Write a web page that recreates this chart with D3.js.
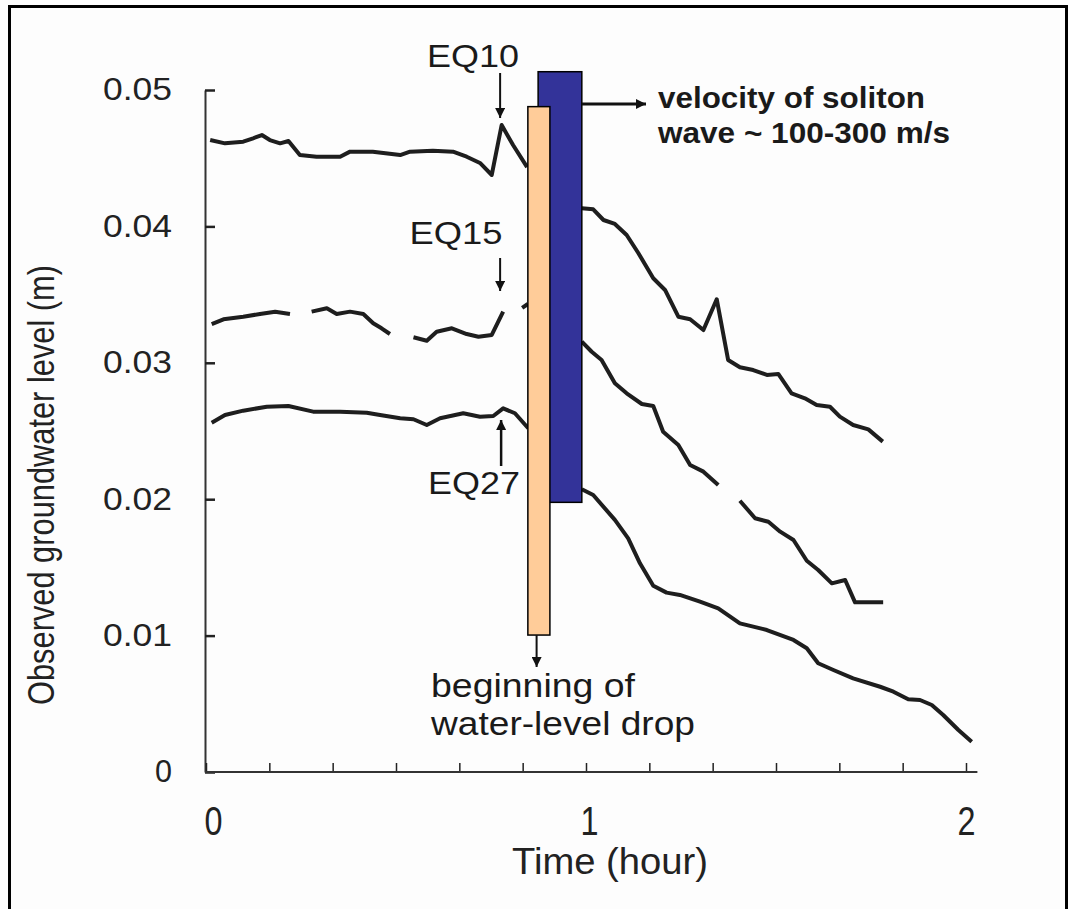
<!DOCTYPE html>
<html>
<head>
<meta charset="utf-8">
<script src="https://cdn.jsdelivr.net/npm/d3@7"></script>
<style>
  body { margin: 0; background: #fff; }
  svg { display: block; }
</style>
</head>
<body>
<div id="chart"></div>
<script>
// ---- data: [time (hour), level (m)], null = gap in the record ----
const eq10 = [
  [0.011, 0.04633], [0.050, 0.04609], [0.098, 0.04621], [0.124, 0.04646], [0.147, 0.04670],
  [0.168, 0.04633], [0.195, 0.04609], [0.217, 0.04626], [0.247, 0.04523], [0.291, 0.04511],
  [0.353, 0.04511], [0.379, 0.04548], [0.439, 0.04548], [0.511, 0.04523], [0.537, 0.04548],
  [0.597, 0.04555], [0.650, 0.04548], [0.686, 0.04511], [0.721, 0.04465], [0.752, 0.04377],
  [0.778, 0.04743], [0.808, 0.04597], [0.845, 0.04435],
  null,
  [0.989, 0.04133], [1.019, 0.04125], [1.046, 0.04047], [1.076, 0.04018], [1.107, 0.03937],
  [1.138, 0.03803], [1.177, 0.03620], [1.208, 0.03534], [1.243, 0.03338], [1.274, 0.03319],
  [1.309, 0.03240], [1.344, 0.03466], [1.374, 0.03021], [1.405, 0.02967], [1.440, 0.02947],
  [1.476, 0.02911], [1.506, 0.02918], [1.541, 0.02776], [1.576, 0.02740], [1.607, 0.02691],
  [1.642, 0.02678], [1.668, 0.02605], [1.703, 0.02544], [1.743, 0.02512], [1.781, 0.02422]
];

const eq15 = [
  [0.015, 0.03284], [0.046, 0.03319], [0.098, 0.03338], [0.142, 0.03358], [0.182, 0.03375],
  [0.221, 0.03358],
  null,
  [0.278, 0.03375], [0.318, 0.03400], [0.344, 0.03358], [0.379, 0.03375], [0.414, 0.03358],
  [0.440, 0.03290], [0.462, 0.03253], [0.484, 0.03211],
  null,
  [0.546, 0.03187], [0.581, 0.03162], [0.607, 0.03228], [0.647, 0.03253], [0.686, 0.03211],
  [0.717, 0.03191], [0.752, 0.03204], [0.782, 0.03375],
  null,
  [0.832, 0.03402], [0.847, 0.03431],
  null,
  [0.989, 0.03155], [1.015, 0.03081], [1.041, 0.03021], [1.076, 0.02850], [1.107, 0.02776],
  [1.147, 0.02698], [1.177, 0.02683], [1.203, 0.02495], [1.243, 0.02397], [1.274, 0.02251],
  [1.309, 0.02202], [1.348, 0.02104],
  null,
  [1.405, 0.01989], [1.445, 0.01860], [1.480, 0.01835], [1.511, 0.01762], [1.546, 0.01701],
  [1.581, 0.01549], [1.611, 0.01481], [1.647, 0.01383], [1.682, 0.01408], [1.708, 0.01244],
  [1.782, 0.01244]
];

const eq27 = [
  [0.015, 0.02561], [0.050, 0.02617], [0.098, 0.02649], [0.160, 0.02678], [0.217, 0.02683],
  [0.282, 0.02642], [0.353, 0.02642], [0.423, 0.02634], [0.458, 0.02617], [0.511, 0.02593],
  [0.546, 0.02586], [0.581, 0.02544], [0.616, 0.02593], [0.677, 0.02630], [0.721, 0.02605],
  [0.756, 0.02610], [0.782, 0.02666], [0.813, 0.02630], [0.848, 0.02520],
  null,
  [0.989, 0.02073], [1.019, 0.02031], [1.076, 0.01848], [1.111, 0.01713], [1.142, 0.01530],
  [1.177, 0.01366], [1.212, 0.01315], [1.247, 0.01298], [1.300, 0.01249], [1.348, 0.01200],
  [1.405, 0.01090], [1.476, 0.01041], [1.546, 0.00968], [1.581, 0.00907], [1.611, 0.00797],
  [1.651, 0.00748], [1.703, 0.00687], [1.774, 0.00625], [1.809, 0.00589], [1.848, 0.00533],
  [1.879, 0.00528], [1.910, 0.00491], [1.940, 0.00418], [1.980, 0.00308], [2.015, 0.00222]
];

// wave bars: [t0, t1, v0, v1]
const solitonBar = [0.874, 0.989, 0.01977, 0.05134];
const dropBar    = [0.847, 0.905, 0.01004, 0.04878];

const yTicks = [0, 0.01, 0.02, 0.03, 0.04, 0.05];
const yTickLabels = ["0", "0.01", "0.02", "0.03", "0.04", "0.05"];
const xTicks = [0, 1/6, 2/6, 3/6, 4/6, 5/6, 1, 7/6, 8/6, 9/6, 10/6, 11/6, 2];
const xTickLabels = {0: "0", 1: "1", 2: "2"};
const xAxisEnd = 2.03;

// ---- svg ----
const W = 1070, H = 909;
const svg = d3.select("#chart").append("svg")
  .attr("width", W).attr("height", H);

svg.append("rect").attr("width", W).attr("height", H).attr("fill", "#fdfdfd");

// frame round the figure
svg.append("rect")
  .attr("x", 9.5).attr("y", 6.5).attr("width", 1057).attr("height", 960)
  .attr("fill", "none").attr("stroke", "#000").attr("stroke-width", 3);

const x = d3.scaleLinear().domain([0, 2]).range([206, 966]);
const y = d3.scaleLinear().domain([0, 0.05]).range([772, 90]);

const ink = "#1e1e1e";
const sans = "'Liberation Sans', Arial, sans-serif";
const narrow = "'Liberation Sans Narrow', 'Arial Narrow', 'Liberation Sans', sans-serif";

// arrow marker
svg.append("defs").append("marker")
  .attr("id", "head")
  .attr("viewBox", "0 0 10 10")
  .attr("refX", 10).attr("refY", 5)
  .attr("markerUnits", "userSpaceOnUse")
  .attr("markerWidth", 12).attr("markerHeight", 10)
  .attr("orient", "auto")
  .append("path").attr("d", "M0,0 L10,5 L0,10 Z").attr("fill", "#111");

// Y axis
const yAxis = svg.append("g")
  .attr("transform", `translate(${x(0) - 1},0)`)
  .call(d3.axisLeft(y).tickValues(yTicks).tickSize(-10).tickSizeOuter(0).tickPadding(33)
    .tickFormat((d, i) => yTickLabels[i]));
yAxis.select(".domain").attr("stroke", "#333").attr("stroke-width", 2);
yAxis.selectAll(".tick line").attr("stroke", "#222").attr("stroke-width", 2.5);
yAxis.selectAll("text")
  .attr("font-family", sans).attr("font-size", 31).attr("fill", "#222")
  .attr("textLength", d => d === 0 ? 17 : 69).attr("lengthAdjust", "spacingAndGlyphs");

// X axis
const xAxis = svg.append("g")
  .attr("transform", `translate(0,${y(0)})`)
  .call(d3.axisBottom(x).tickValues(xTicks).tickSize(-9).tickSizeOuter(0).tickPadding(35)
    .tickFormat(d => xTickLabels[d] || ""));
xAxis.select(".domain").remove();
xAxis.append("line")
  .attr("x1", x(0) - 1).attr("x2", x(xAxisEnd))
  .attr("stroke", "#333").attr("stroke-width", 2);
xAxis.selectAll(".tick line").attr("stroke", "#222").attr("stroke-width", 1.5);
xAxis.selectAll("text")
  .attr("font-family", narrow).attr("font-size", 40).attr("fill", "#222")
  .attr("textLength", d => xTickLabels[d] ? 18 : null).attr("lengthAdjust", "spacingAndGlyphs")
  .attr("dx", d => d === 0 ? 7 : (d === 1 ? 3 : 0));

// axis titles
svg.append("text")
  .attr("x", 610).attr("y", 874)
  .attr("text-anchor", "middle")
  .attr("font-family", narrow).attr("font-size", 37).attr("fill", "#222")
  .attr("textLength", 196).attr("lengthAdjust", "spacingAndGlyphs")
  .text("Time (hour)");

svg.append("text")
  .attr("transform", "translate(54,485) rotate(-90)")
  .attr("text-anchor", "middle")
  .attr("font-family", narrow).attr("font-size", 37).attr("fill", "#222")
  .attr("textLength", 440).attr("lengthAdjust", "spacingAndGlyphs")
  .text("Observed groundwater level (m)");

// series
const line = d3.line()
  .defined(d => d !== null)
  .x(d => x(d[0]))
  .y(d => y(d[1]));

[eq10, eq15, eq27].forEach(s => {
  svg.append("path")
    .datum(s)
    .attr("fill", "none")
    .attr("stroke", ink)
    .attr("stroke-width", 4)
    .attr("stroke-linejoin", "round")
    .attr("d", line);
});

// bars
svg.append("rect")
  .attr("x", x(solitonBar[0])).attr("width", x(solitonBar[1]) - x(solitonBar[0]))
  .attr("y", y(solitonBar[3])).attr("height", y(solitonBar[2]) - y(solitonBar[3]))
  .attr("fill", "#333399").attr("stroke", "#000").attr("stroke-width", 1.5);

svg.append("rect")
  .attr("x", x(dropBar[0])).attr("width", x(dropBar[1]) - x(dropBar[0]))
  .attr("y", y(dropBar[3])).attr("height", y(dropBar[2]) - y(dropBar[3]))
  .attr("fill", "#ffcc99").attr("stroke", "#000").attr("stroke-width", 1.5);

// arrows
function arrow(x1, y1, x2, y2, w) {
  svg.append("line")
    .attr("x1", x1).attr("y1", y1).attr("x2", x2).attr("y2", y2)
    .attr("stroke", "#111").attr("stroke-width", w)
    .attr("marker-end", "url(#head)");
}
const tEq = 0.774;
arrow(x(tEq), 73, x(tEq), 118, 2);
arrow(x(tEq), 258, x(tEq), 291, 2);
arrow(x(tEq) + 1, 466, x(tEq) + 1, 420, 2.5);
arrow(x(solitonBar[1]), 104, 646, 104, 3);
arrow(x(0.87), y(dropBar[2]), x(0.87), 667, 2);

// labels
function label(txt, cx, by, size, len, weight) {
  svg.append("text")
    .attr("x", cx).attr("y", by)
    .attr("text-anchor", "middle")
    .attr("font-family", sans).attr("font-size", size)
    .attr("font-weight", weight || "normal").attr("fill", "#1a1a1a")
    .attr("textLength", len).attr("lengthAdjust", "spacingAndGlyphs")
    .text(txt);
}
label("EQ10", 473, 67, 31, 92);
label("EQ15", 456, 244, 31, 93);
label("EQ27", 474, 494, 31, 92);
label("beginning of", 533, 697, 33, 204);
label("water-level drop", 563, 735, 33, 264);
label("velocity of soliton", 791.5, 108, 29, 267, "bold");
label("wave ~ 100-300 m/s", 804, 143, 29, 292, "bold");
</script>
</body>
</html>
